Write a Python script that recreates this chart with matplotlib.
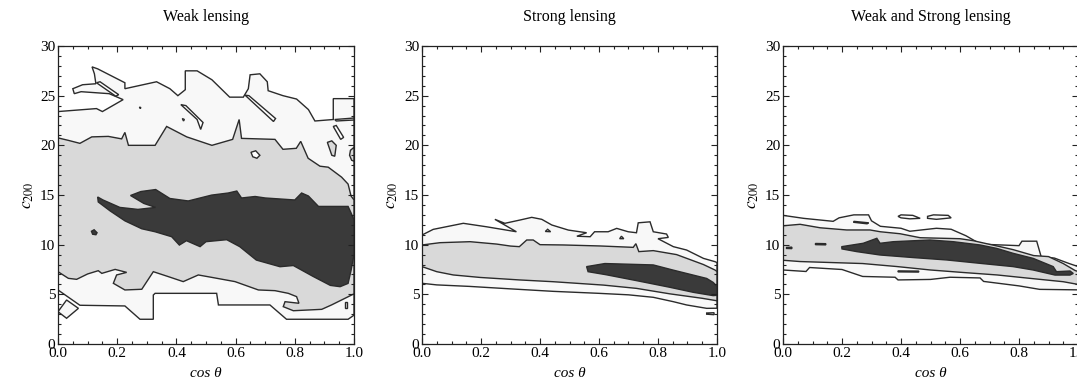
import matplotlib
matplotlib.use("Agg")
import matplotlib.pyplot as plt
from matplotlib.ticker import MultipleLocator

# ---------------------------------------------------------------
# Confidence regions in the (cos theta, c200) plane.
# Each region is a closed outline; level 1 = outer, 2 = middle, 3 = inner.
# ---------------------------------------------------------------

# Weak lensing
weak_l1_x = [0.0, 0.13, 0.15, 0.22, 0.173, 0.078, 0.055, 0.05, 0.083, 0.128, 0.123, 0.115,
             0.134, 0.226, 0.226,
             0.333, 0.378, 0.405, 0.43, 0.43, 0.47, 0.52, 0.58, 0.626, 0.643, 0.649, 0.682,
             0.707, 0.71, 0.76, 0.806, 0.846, 0.868, 0.93, 0.93, 0.993, 1.0,
             1.0, 0.98, 0.772, 0.716, 0.542, 0.536, 0.328, 0.322, 0.322, 0.277, 0.226,
             0.074, 0.0]
weak_l1_y = [23.4, 23.7, 23.4, 24.6, 25.2, 25.4, 25.2, 25.7, 26.1, 26.2, 27.2, 27.9,
             27.7, 26.3, 25.7,
             26.4, 25.7, 25.0, 25.6, 27.5, 27.5, 26.6, 24.85, 24.85, 25.7, 27.1, 27.2,
             26.4, 25.5, 25.0, 24.66, 23.6, 22.45, 22.6, 24.7, 24.7, 24.7,
             2.9, 2.49, 2.49, 3.93, 3.93, 5.1, 5.1, 4.93, 2.49, 2.49, 3.83,
             3.9, 5.44]

weak_l2_x = [0.0, 0.035, 0.074, 0.114, 0.17, 0.215, 0.226, 0.238, 0.328, 0.367, 0.435, 0.52,
             0.59, 0.612, 0.62, 0.733, 0.76, 0.805, 0.82, 0.845, 0.885, 0.913, 0.958, 0.98,
             0.99, 1.0,
             1.0, 0.924, 0.891, 0.795, 0.761, 0.767, 0.814, 0.806, 0.778, 0.733, 0.677,
             0.598, 0.519, 0.474, 0.423, 0.373, 0.322, 0.283, 0.226, 0.187, 0.198, 0.232,
             0.193, 0.148, 0.136, 0.10, 0.063, 0.035, 0.0]
weak_l2_y = [20.75, 20.5, 20.2, 20.85, 20.9, 20.65, 21.3, 20.0, 20.0, 21.9, 20.85, 20.0,
             20.6, 22.6, 20.7, 20.6, 19.6, 19.7, 20.4, 18.7, 17.9, 17.8, 16.8, 16.1,
             14.9, 14.5,
             5.05, 3.93, 3.49, 3.35, 3.76, 4.26, 4.1, 4.77, 5.10, 5.37, 5.44,
             6.28, 6.71, 6.95, 6.28, 6.78, 7.28, 5.51, 5.44, 6.11, 6.95, 7.21,
             7.51, 7.11, 7.38, 7.05, 6.51, 6.61, 7.28]

weak_l3_x = [0.134, 0.152, 0.209, 0.27, 0.33, 0.29, 0.245, 0.28, 0.33, 0.378, 0.44, 0.519,
             0.575, 0.604, 0.62, 0.666, 0.70, 0.80, 0.823, 0.846, 0.88, 0.98, 0.99, 1.0,
             1.0, 0.99, 0.98, 0.953, 0.92, 0.862, 0.795, 0.75, 0.67, 0.614, 0.57, 0.50,
             0.48, 0.434, 0.41, 0.384, 0.328, 0.283, 0.226, 0.176, 0.136]
weak_l3_y = [14.8, 14.5, 13.75, 13.55, 13.75, 14.15, 14.95, 15.35, 15.55, 14.65, 14.4, 14.99,
             15.2, 15.4, 14.7, 14.85, 14.7, 14.5, 15.2, 14.9, 13.85, 13.85, 13.2, 12.5,
             9.0, 7.4, 6.1, 5.77, 5.9, 6.8, 7.9, 7.78, 8.45, 9.8, 10.5, 10.3,
             9.8, 10.4, 9.96, 10.8, 11.3, 11.6, 12.4, 13.4, 14.3]

weak_islands = [
    (0, [0.13, 0.142, 0.205, 0.195], [26.3, 26.4, 25.1, 24.95]),
    (0, [0.275, 0.28, 0.278], [23.85, 23.8, 23.7]),
    (0, [0.415, 0.432, 0.49, 0.482, 0.47], [24.1, 24.0, 22.3, 21.6, 22.6]),
    (0, [0.42, 0.427, 0.424], [22.7, 22.6, 22.45]),
    (0, [0.632, 0.645, 0.735, 0.728], [25.05, 25.0, 22.7, 22.4]),
    (0, [0.935, 1.0, 1.0, 0.94], [22.6, 22.75, 22.55, 22.45]),
    (0, [0.93, 0.94, 0.965, 0.955], [21.9, 22.0, 20.8, 20.6]),
    (2, [0.91, 0.925, 0.94, 0.935, 0.925], [20.3, 20.45, 20.0, 18.9, 19.0]),
    (2, [1.0, 0.988, 0.985, 0.992, 1.0], [19.8, 19.5, 19.0, 18.5, 18.4]),
    (0, [0.652, 0.668, 0.682, 0.672, 0.658], [19.3, 19.45, 19.0, 18.7, 18.85]),
    (3, [0.113, 0.122, 0.132, 0.128, 0.117], [11.35, 11.5, 11.2, 11.0, 11.05]),
    (1, [0.0, 0.029, 0.069, 0.029], [3.25, 4.43, 3.59, 2.59]),
    (0, [0.97, 0.976, 0.976, 0.97], [4.2, 4.2, 3.6, 3.6]),
]

# Strong lensing
strong_l1_x = [0.0, 0.038, 0.14, 0.219, 0.32, 0.247, 0.281, 0.332, 0.372, 0.406, 0.44, 0.496,
               0.558, 0.525, 0.57, 0.585, 0.631, 0.66, 0.699, 0.727, 0.733, 0.773, 0.784,
               0.829, 0.835, 0.80, 0.852, 0.897, 0.954, 0.993, 1.0,
               1.0, 0.965, 0.897, 0.852, 0.784, 0.70, 0.60, 0.445, 0.30, 0.16, 0.05, 0.0]
strong_l1_y = [10.97, 11.54, 12.15, 11.8, 11.3, 12.55, 12.15, 12.48, 12.75, 12.55, 11.98, 11.47,
               11.2, 10.85, 10.8, 11.3, 11.3, 11.64, 11.3, 11.2, 12.2, 12.3, 11.3,
               11.07, 10.73, 10.6, 9.8, 9.46, 8.62, 8.29, 8.2,
               3.6, 3.59, 3.93, 4.26, 4.7, 4.95, 5.1, 5.3, 5.55, 5.8, 5.95, 6.11]

strong_l2_x = [0.0, 0.061, 0.163, 0.253, 0.30, 0.33, 0.355, 0.377, 0.40, 0.479, 0.603, 0.716,
               0.725, 0.735, 0.784, 0.863, 0.954, 0.993, 1.0,
               1.0, 0.95, 0.84, 0.727, 0.615, 0.445, 0.33, 0.197, 0.106, 0.05, 0.0]
strong_l2_y = [9.97, 10.2, 10.3, 10.06, 9.86, 9.8, 10.47, 10.47, 10.0, 9.97, 9.87, 9.73,
               10.1, 9.3, 9.4, 9.0, 8.0, 7.45, 7.3,
               4.35, 4.6, 5.05, 5.6, 5.93, 6.27, 6.45, 6.7, 6.95, 7.28, 7.79]

strong_l3_x = [0.558, 0.62, 0.784, 0.85, 0.965, 0.987, 1.0,
               1.0, 0.987, 0.92, 0.84, 0.727, 0.623, 0.563]
strong_l3_y = [7.79, 8.1, 7.96, 7.45, 6.6, 6.2, 5.8,
               4.9, 4.87, 5.2, 5.71, 6.38, 6.98, 7.28]

strong_islands = [
    (0, [0.418, 0.436, 0.426], [11.33, 11.3, 11.55]),
    (0, [0.67, 0.684, 0.676], [10.6, 10.6, 10.85]),
    (1, [0.965, 0.99, 0.99, 0.965], [3.0, 2.95, 3.15, 3.12]),
]

# Weak and strong lensing combined
both_l1_x = [0.0, 0.07, 0.17, 0.19, 0.24, 0.29, 0.30, 0.33, 0.40, 0.43, 0.52, 0.57, 0.62, 0.67,
             0.80, 0.81, 0.86, 0.875, 0.92, 0.97, 1.0,
             1.0, 0.87, 0.80, 0.68, 0.668, 0.566, 0.50, 0.39, 0.38, 0.27, 0.20, 0.09, 0.078,
             0.0]
both_l1_y = [12.95, 12.65, 12.35, 12.7, 13.0, 13.0, 12.4, 11.85, 11.65, 11.35, 11.65, 11.55,
             10.9, 10.05, 9.9, 10.35, 10.35, 8.8, 8.65, 8.1, 7.8,
             5.45, 5.5, 5.85, 6.3, 6.65, 6.72, 6.5, 6.45, 6.72, 6.8, 7.5, 7.7, 7.3,
             7.45]

both_l2_x = [0.0, 0.058, 0.126, 0.216, 0.295, 0.33, 0.397, 0.465, 0.60, 0.645, 0.69, 0.736,
             0.78, 0.85, 0.90, 0.95, 0.99, 1.0,
             1.0, 0.95, 0.84, 0.726, 0.61, 0.50, 0.385, 0.27, 0.058, 0.0]
both_l2_y = [11.9, 12.05, 11.7, 11.48, 11.48, 11.3, 11.1, 10.7, 10.6, 10.4, 10.1, 9.8,
             9.5, 8.9, 8.8, 8.1, 7.4, 7.3,
             6.0, 6.27, 6.6, 6.95, 7.2, 7.45, 7.8, 8.1, 8.3, 8.43]

both_l3_x = [0.199, 0.272, 0.318, 0.329, 0.374, 0.498, 0.577, 0.668, 0.724, 0.78, 0.848,
             0.916, 0.927, 0.973, 0.984,
             0.973, 0.922, 0.848, 0.78, 0.668, 0.555, 0.442, 0.329, 0.25, 0.2]
both_l3_y = [9.8, 10.14, 10.64, 10.14, 10.3, 10.47, 10.3, 9.97, 9.63, 9.13, 8.62,
             7.79, 7.28, 7.35, 7.1,
             6.94, 6.94, 7.45, 7.79, 8.12, 8.46, 8.7, 8.96, 9.3, 9.57]

both_islands = [
    (1, [0.39, 0.40, 0.44, 0.465, 0.43, 0.40], [12.85, 13.0, 12.95, 12.65, 12.6, 12.7]),
    (1, [0.49, 0.51, 0.56, 0.57, 0.52, 0.49], [12.85, 13.0, 12.95, 12.7, 12.55, 12.65]),
    (0, [0.24, 0.29, 0.285, 0.24], [12.35, 12.2, 12.1, 12.25]),
    (3, [0.012, 0.03, 0.03, 0.012], [9.72, 9.75, 9.6, 9.62]),
    (3, [0.11, 0.145, 0.145, 0.11], [10.12, 10.1, 9.98, 10.0]),
    (3, [0.39, 0.46, 0.46, 0.39], [7.36, 7.34, 7.24, 7.26]),
]

titles = ["Weak lensing", "Strong lensing", "Weak and Strong lensing"]
panels = [
    ([(1, weak_l1_x, weak_l1_y), (2, weak_l2_x, weak_l2_y), (3, weak_l3_x, weak_l3_y)], weak_islands),
    ([(1, strong_l1_x, strong_l1_y), (2, strong_l2_x, strong_l2_y), (3, strong_l3_x, strong_l3_y)], strong_islands),
    ([(1, both_l1_x, both_l1_y), (2, both_l2_x, both_l2_y), (3, both_l3_x, both_l3_y)], both_islands),
]

level_colors = {0: "#ffffff", 1: "#f8f8f8", 2: "#d9d9d9", 3: "#3a3a3a"}
edge_color = "#2b2b2b"

plt.rcParams["font.family"] = ["Liberation Serif", "DejaVu Serif"]
plt.rcParams["mathtext.fontset"] = "stix"

fig = plt.figure(figsize=(10.77, 3.86), dpi=100)
lefts = [58 / 1077, 422 / 1077, 783 / 1077]
widths = [296 / 1077, 295 / 1077, 295 / 1077]
bottom = 42 / 386
height = 298 / 386

for i, (regions, islands) in enumerate(panels):
    ax = fig.add_axes([lefts[i], bottom, widths[i], height])
    for level, xs, ys in regions + islands:
        ax.fill(xs, ys, facecolor=level_colors[level], edgecolor=edge_color,
                linewidth=1.0, joinstyle="miter")
    ax.set_xlim(0, 1)
    ax.set_ylim(0, 30)
    ax.xaxis.set_major_locator(MultipleLocator(0.2))
    ax.xaxis.set_minor_locator(MultipleLocator(0.05))
    ax.yaxis.set_major_locator(MultipleLocator(5))
    ax.yaxis.set_minor_locator(MultipleLocator(1))
    ax.xaxis.set_major_formatter(plt.FuncFormatter(lambda v, p: f"{v:.1f}"))
    ax.tick_params(which="both", direction="in", top=True, right=True,
                   labelsize=11, color="#222222", width=0.8, pad=2)
    ax.tick_params(which="major", length=4)
    ax.tick_params(which="minor", length=2.2)
    for s in ax.spines.values():
        s.set_linewidth(0.9)
        s.set_color("#222222")
    ax.set_title(titles[i], fontsize=11.5, pad=18)
    ax.set_xlabel("cos θ", fontsize=11, style="italic", labelpad=5)
    ax.set_ylabel(r"$c_{\mathit{200}}$", fontsize=12.5, labelpad=3)

fig.savefig("out.png", dpi=100)
